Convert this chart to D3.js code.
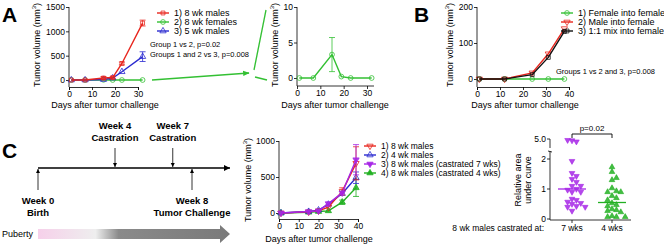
<!DOCTYPE html>
<html lang="en">
<head>
<meta charset="UTF-8">
<title>Tumor growth panels</title>
<script src="https://d3js.org/d3.v7.min.js"></script>
<style>
  body { margin: 0; background: #fff; }
  text { font-family: "Liberation Sans", Arial, sans-serif; }
</style>
</head>
<body>
<script>
// ---- data ----
// panel A
const daysA = [1, 7, 15, 19, 23, 32];
const maleA8 = [0, 0, 40, 50, 340, 1170];
const maleA8Err = [0, 0, 30, 20, 30, 60];
const femaleA8 = [0, 0, 3.3, 0.2, 0, 0];
const femaleA8Err = [0, 0, 2.4, 0, 0, 0];
const maleA5 = [0, 0, 10, 40, 170, 480];
const maleA5Err = [0, 0, 0, 0, 0, 100];
const legendA = ["1) 8 wk males", "2) 8 wk females", "3) 5 wk males"];
const ticksA = [0, 500, 1000, 1500];
const ticksInset = [0, 5, 10];
const ticksDaysA = [0, 10, 20, 30];

// panel B
const daysB = [1, 12, 24, 31, 38];
const femaleB = [0, 0, 0, 0, 0];
const maleB = [0, 0, 17, 70, 140];
const mixB = [0, 0, 12, 60, 132];
const legendB = ["1) Female into female", "2) Male into female", "3) 1:1 mix into female"];
const ticksB = [0, 100, 200];
const ticksDaysB = [0, 10, 20, 30, 40];

// panel C growth
const daysC = [1, 15, 20, 25, 32, 39];
const maleC8 = [0, 15, 30, 80, 300, 690];
const maleC8Err = [0, 0, 0, 0, 50, 230];
const maleC4 = [0, 20, 40, 120, 270, 490];
const maleC4Err = [0, 0, 0, 0, 0, 80];
const castr7 = [0, 20, 30, 130, 280, 740];
const castr7Err = [0, 0, 0, 0, 0, 210];
const castr4 = [0, 10, 20, 30, 150, 350];
const castr4Err = [0, 0, 0, 0, 30, 120];
const legendC = ["1) 8 wk males", "2) 4 wk males", "3) 8 wk males (castrated 7 wks)", "4) 8 wk males (castrated 4 wks)"];
const ticksC = [0, 500, 1000];
const ticksDaysC = [0, 10, 20, 30, 40];

// panel C area under curve
const auc7 = [4.6, 4.3, 4.7, 1.93, 1.53, 1.43, 1.33, 1.23, 1.1, 1.1, 1.0, 0.97, 0.9, 0.9,
              0.67, 0.63, 0.57, 0.53, 0.5, 0.43, 0.4, 0.4, 0.27];
const auc4 = [1.73, 1.57, 1.3, 1.37, 1.03, 0.93, 0.9, 0.9, 0.77, 0.7, 0.63, 0.53, 0.47,
              0.43, 0.33, 0.3, 0.27, 0.23, 0.1, 0.07, 0.07, 0.07];
const aucMean = [1.0, 0.55];
const aucGroups = ["7 wks", "4 wks"];

// timeline
const timeline = [
  { week: 0, top: null, bottom: ["Week 0", "Birth"] },
  { week: 4, top: ["Week 4", "Castration"], bottom: null },
  { week: 7, top: ["Week 7", "Castration"], bottom: null },
  { week: 8, top: null, bottom: ["Week 8", "Tumor Challenge"] }
];

const RED = "#e8261e", GREEN = "#33c033", BLUE = "#2a2ad0", PURPLE = "#a626e6", DGREEN = "#22b022";

const svg = d3.select("body").append("svg")
  .attr("width", 664).attr("height", 247);

const defs = svg.append("defs");

function sym(type, size, rot) {
  const p = d3.symbol().type(type).size(size)();
  return { d: p, rot: rot || 0 };
}

function axes(g, x, y, yTicks, xTicks, xAxisY, yFmt) {
  const ya = g.append("g").attr("transform", `translate(${x.range()[0]},0)`)
    .call(d3.axisLeft(y).tickValues(yTicks).tickSize(3).tickFormat(yFmt || d3.format("d")));
  ya.select(".domain").attr("d", `M0,${y.range()[1]}V${xAxisY}`);
  const xa = g.append("g").attr("transform", `translate(0,${xAxisY})`)
    .call(d3.axisBottom(x).tickValues(xTicks).tickSize(3).tickFormat(d3.format("d")));
  [ya, xa].forEach(a => {
    a.selectAll("text").attr("font-size", 8.5).attr("fill", "#000");
    a.selectAll("line,path").attr("stroke", "#000").attr("stroke-width", 0.8);
  });
  ya.selectAll("text").attr("x", -4);
  xa.selectAll("text").attr("y", 4);
  return xa;
}

function series(g, x, y, days, vals, errs, color, shape, filled) {
  const pts = days.map((d, i) => ({ d, v: vals[i], e: errs ? errs[i] : 0 }));
  g.append("path").datum(pts)
    .attr("fill", "none").attr("stroke", color).attr("stroke-width", 1.4)
    .attr("d", d3.line().x(p => x(p.d)).y(p => y(p.v)));
  const eb = g.append("g").attr("stroke", color).attr("stroke-width", 0.8);
  pts.filter(p => p.e > 0).forEach(p => {
    const lo = Math.max(y.domain()[0], p.v - p.e);
    eb.append("line").attr("x1", x(p.d)).attr("x2", x(p.d)).attr("y1", y(lo)).attr("y2", y(p.v + p.e));
    eb.append("line").attr("x1", x(p.d) - 3).attr("x2", x(p.d) + 3).attr("y1", y(p.v + p.e)).attr("y2", y(p.v + p.e));
    if (p.v - p.e > y.domain()[0])
      eb.append("line").attr("x1", x(p.d) - 3).attr("x2", x(p.d) + 3).attr("y1", y(lo)).attr("y2", y(lo));
  });
  g.append("g").selectAll("path").data(pts).join("path")
    .attr("d", shape.d)
    .attr("transform", p => `translate(${x(p.d)},${y(p.v)}) rotate(${shape.rot})`)
    .attr("fill", filled ? color : "none")
    .attr("fill-opacity", filled ? 0.85 : 1)
    .attr("stroke", color).attr("stroke-width", 0.8);
}

function yTitle(g, cx, cy, label) {
  const t = g.append("text").attr("transform", `translate(${cx},${cy}) rotate(-90)`)
    .attr("text-anchor", "middle").attr("font-size", 9);
  t.append("tspan").text(label);
  t.append("tspan").text("3").attr("font-size", 6).attr("dy", -4);
  t.append("tspan").text(")").attr("dy", 4);
}

function xTitle(g, cx, cy) {
  g.append("text").attr("x", cx).attr("y", cy).attr("text-anchor", "middle")
    .attr("font-size", 9).text("Days after tumor challenge");
}

function legend(g, x0, y0, dy, labels, colors, shapes, fills, fs) {
  labels.forEach((l, i) => {
    const yy = y0 + i * dy;
    g.append("line").attr("x1", x0 - 6).attr("x2", x0 + 6).attr("y1", yy).attr("y2", yy)
      .attr("stroke", colors[i]).attr("stroke-width", 1.4);
    g.append("path").attr("d", shapes[i].d)
      .attr("transform", `translate(${x0},${yy}) rotate(${shapes[i].rot})`)
      .attr("fill", fills[i] ? colors[i] : "none").attr("stroke", colors[i]).attr("stroke-width", 0.8);
    g.append("text").attr("x", x0 + 11).attr("y", yy + 3).attr("font-size", fs || 9).text(l);
  });
}

function panelLetter(x, y, l) {
  svg.append("text").attr("x", x).attr("y", y).attr("font-size", 21)
    .attr("font-weight", "bold").text(l);
}

const SQ = sym(d3.symbolSquare, 15), CI = sym(d3.symbolCircle, 18),
      TU = sym(d3.symbolTriangle, 17), TD = sym(d3.symbolTriangle, 17, 180);

// ---- panel A main ----
panelLetter(2, 22, "A");
{
  const g = svg.append("g");
  const x = d3.scaleLinear().domain([0, 30]).range([69, 138]);
  const y = d3.scaleLinear().domain([0, 1500]).range([80, 7]);
  axes(g, x, y, ticksA, ticksDaysA, 87);
  yTitle(g, 40, 45, "Tumor volume (mm");
  xTitle(g, 105, 108);
  series(g, x, y, daysA, femaleA8, null, GREEN, CI, false);
  series(g, x, y, daysA, maleA5, maleA5Err, BLUE, TU, false);
  series(g, x, y, daysA, maleA8, maleA8Err, RED, SQ, false);
  legend(g, 163, 13, 9, legendA, [RED, GREEN, BLUE], [SQ, CI, TU], [false, false, false]);
  g.append("text").attr("x", 150).attr("y", 47).attr("font-size", 7.5).text("Group 1 vs 2, p=0.02");
  g.append("text").attr("x", 150).attr("y", 57).attr("font-size", 7.5).text("Groups 1 and 2 vs 3, p=0.008");
}

// zoom arrow + lines
defs.append("marker").attr("id", "garrow").attr("viewBox", "0 0 10 10")
  .attr("refX", 9).attr("refY", 5).attr("markerWidth", 5).attr("markerHeight", 5)
  .attr("orient", "auto").append("path").attr("d", "M0,1L10,5L0,9z").attr("fill", GREEN);
svg.append("line").attr("x1", 152).attr("y1", 80).attr("x2", 249).attr("y2", 73)
  .attr("stroke", GREEN).attr("stroke-width", 1.3).attr("marker-end", "url(#garrow)");
svg.append("line").attr("x1", 254).attr("y1", 70).attr("x2", 266).attr("y2", 10)
  .attr("stroke", GREEN).attr("stroke-width", 1.3);
svg.append("line").attr("x1", 255).attr("y1", 77).attr("x2", 267).attr("y2", 80)
  .attr("stroke", GREEN).attr("stroke-width", 1.3);

// ---- panel A inset ----
{
  const g = svg.append("g");
  const x = d3.scaleLinear().domain([0, 30]).range([297, 367]);
  const y = d3.scaleLinear().domain([0, 10]).range([78, 7]);
  const xa = axes(g, x, y, ticksInset, ticksDaysA, 86);
  xa.select(".domain").attr("d", "M297,0H374");
  yTitle(g, 278, 45, "Tumor volume (mm");
  xTitle(g, 335, 108);
  series(g, x, y, daysA, femaleA8, femaleA8Err, GREEN, CI, false);
}

// ---- panel B ----
panelLetter(414, 22, "B");
{
  const g = svg.append("g");
  const x = d3.scaleLinear().domain([0, 40]).range([477, 569]);
  const y = d3.scaleLinear().domain([0, 200]).range([79, 7]);
  axes(g, x, y, ticksB, ticksDaysB, 87);
  yTitle(g, 453, 45, "Tumor volume (mm");
  xTitle(g, 525, 108);
  series(g, x, y, daysB, femaleB, null, GREEN, CI, false);
  series(g, x, y, daysB, maleB, null, RED, TD, false);
  series(g, x, y, daysB, mixB, null, "#111", SQ, false);
  legend(g, 567, 13, 9, legendB, [GREEN, RED, "#111"], [CI, TD, SQ], [false, false, false]);
  g.append("text").attr("x", 556).attr("y", 74).attr("font-size", 7.5).text("Groups 1 vs 2 and 3, p=0.008");
}

// ---- panel C timeline ----
panelLetter(2, 158, "C");
{
  const g = svg.append("g");
  const t = d3.scaleLinear().domain([0, 8]).range([38, 192]);
  const lineY = 168;
  defs.append("marker").attr("id", "karrow").attr("viewBox", "0 0 10 10")
    .attr("refX", 10).attr("refY", 5).attr("markerWidth", 9).attr("markerHeight", 6)
    .attr("markerUnits", "userSpaceOnUse").attr("orient", "auto")
    .append("path").attr("d", "M0,0L10,5L0,10z").attr("fill", "#000");
  defs.append("marker").attr("id", "sarrow").attr("viewBox", "0 0 10 10")
    .attr("refX", 10).attr("refY", 5).attr("markerWidth", 4).attr("markerHeight", 5)
    .attr("markerUnits", "userSpaceOnUse").attr("orient", "auto")
    .append("path").attr("d", "M0,0L10,5L0,10z").attr("fill", "#000");
  g.append("line").attr("x1", t(0)).attr("x2", 230).attr("y1", lineY).attr("y2", lineY)
    .attr("stroke", "#000").attr("stroke-width", 1.3).attr("marker-end", "url(#karrow)");
  timeline.forEach(ev => {
    const xx = t(ev.week);
    if (ev.top) {
      g.append("line").attr("x1", xx).attr("x2", xx).attr("y1", 148).attr("y2", lineY - 1)
        .attr("stroke", "#000").attr("stroke-width", 0.8).attr("marker-end", "url(#sarrow)");
      ev.top.forEach((s, i) => g.append("text").attr("x", xx).attr("y", 129 + i * 12)
        .attr("text-anchor", "middle").attr("font-size", 9.5).attr("font-weight", "bold").text(s));
    } else {
      g.append("line").attr("x1", xx).attr("x2", xx).attr("y1", 190).attr("y2", lineY + 1)
        .attr("stroke", "#000").attr("stroke-width", 0.8).attr("marker-end", "url(#sarrow)");
      ev.bottom.forEach((s, i) => g.append("text").attr("x", xx).attr("y", 204 + i * 12)
        .attr("text-anchor", "middle").attr("font-size", 9.5).attr("font-weight", "bold").text(s));
    }
  });
  const grad = defs.append("linearGradient").attr("id", "pub").attr("x1", "0").attr("x2", "1");
  grad.append("stop").attr("offset", "0").attr("stop-color", "#f6d0ea");
  grad.append("stop").attr("offset", "0.3").attr("stop-color", "#eeeeee");
  grad.append("stop").attr("offset", "0.42").attr("stop-color", "#8a8a8a");
  grad.append("stop").attr("offset", "1").attr("stop-color", "#7a7a7a");
  g.append("path").attr("d", "M38,229H220V225L230,234L220,243V239H38Z").attr("fill", "url(#pub)");
  g.append("text").attr("x", 2).attr("y", 237).attr("font-size", 9).text("Puberty");
}

// ---- panel C growth curves ----
{
  const g = svg.append("g");
  const x = d3.scaleLinear().domain([0, 40]).range([279, 358]);
  const y = d3.scaleLinear().domain([0, 1000]).range([213, 141]);
  axes(g, x, y, ticksC, ticksDaysC, 219);
  yTitle(g, 251, 180, "Tumor volume (mm");
  xTitle(g, 319, 242);
  series(g, x, y, daysC, castr4, castr4Err, DGREEN, TU, true);
  series(g, x, y, daysC, maleC4, maleC4Err, BLUE, TU, false);
  series(g, x, y, daysC, maleC8, maleC8Err, RED, TD, false);
  series(g, x, y, daysC, castr7, castr7Err, PURPLE, TD, true);
  legend(g, 370, 146, 9, legendC, [RED, BLUE, PURPLE, DGREEN], [TD, TU, TD, TU], [false, false, true, true], 8.5);
}

// ---- panel C area under curve ----
{
  const g = svg.append("g");
  const x = d3.scalePoint().domain(aucGroups).range([572, 612]);
  const y = d3.scaleLinear().domain([0, 2.3, 2.6, 5]).range([219, 150, 148, 139]);
  const axY = 550;
  g.append("path").attr("d", `M${axY},220V151M${axY},148V139`).attr("stroke", "#000").attr("stroke-width", 0.8);
  g.append("line").attr("x1", axY - 2).attr("x2", axY + 2).attr("y1", 151).attr("y2", 152)
    .attr("stroke", "#000").attr("stroke-width", 0.8);
  [0, 1, 2, 5].forEach(v => {
    g.append("line").attr("x1", axY - 3).attr("x2", axY).attr("y1", y(v)).attr("y2", y(v)).attr("stroke", "#000").attr("stroke-width", 0.8);
    g.append("text").attr("x", axY - 4).attr("y", y(v) + 3).attr("text-anchor", "end")
      .attr("font-size", 8.5).text(v === 5 ? "5.0" : v);
  });
  g.append("line").attr("x1", axY).attr("x2", 631).attr("y1", 220).attr("y2", 220).attr("stroke", "#000").attr("stroke-width", 0.8);
  aucGroups.forEach(k => {
    g.append("line").attr("x1", x(k)).attr("x2", x(k)).attr("y1", 220).attr("y2", 223).attr("stroke", "#000").attr("stroke-width", 0.8);
    g.append("text").attr("x", x(k)).attr("y", 231).attr("text-anchor", "middle").attr("font-size", 8.5).text(k);
  });
  g.append("text").attr("x", 544).attr("y", 231).attr("text-anchor", "end").attr("font-size", 8.5)
    .text("8 wk males castrated at:");
  const yt = g.append("text").attr("transform", "translate(521,180) rotate(-90)")
    .attr("text-anchor", "middle").attr("font-size", 9);
  yt.append("tspan").attr("x", 0).attr("dy", 0).text("Relative area");
  yt.append("tspan").attr("x", 0).attr("dy", 10).text("under curve");

  // beeswarm style dodge
  function dodge(vals, cx, r) {
    const placed = [];
    return vals.map(v => {
      const yy = y(v);
      let off = 0;
      for (let k = 0; k < 40; k++) {
        off = (k % 2 ? 1 : -1) * Math.ceil(k / 2) * r;
        const ok = placed.every(p => Math.hypot(p.x - (cx + off), p.y - yy) >= r);
        if (ok) break;
      }
      const pt = { x: cx + off, y: yy };
      placed.push(pt);
      return pt;
    });
  }
  const dot = [sym(d3.symbolTriangle, 14, 180), sym(d3.symbolTriangle, 14)];
  [[auc7, PURPLE], [auc4, DGREEN]].forEach(([vals, col], gi) => {
    const cx = x(aucGroups[gi]);
    const pts = dodge(vals, cx, 4.4);
    const shp = dot[gi];
    g.append("g").selectAll("path").data(pts).join("path")
      .attr("d", shp.d).attr("transform", p => `translate(${p.x},${p.y}) rotate(${shp.rot})`)
      .attr("fill", col).attr("fill-opacity", 0.85).attr("stroke", col).attr("stroke-width", 0.6);
    g.append("line").attr("x1", cx - 14).attr("x2", cx + 14)
      .attr("y1", y(aucMean[gi])).attr("y2", y(aucMean[gi])).attr("stroke", col).attr("stroke-width", 1.3);
  });
  g.append("path").attr("d", `M${x("7 wks")},138V134H${x("4 wks")}V138`)
    .attr("fill", "none").attr("stroke", "#000").attr("stroke-width", 0.9);
  g.append("text").attr("x", 592).attr("y", 131).attr("text-anchor", "middle").attr("font-size", 8).text("p=0.02");
}
</script>
</body>
</html>
